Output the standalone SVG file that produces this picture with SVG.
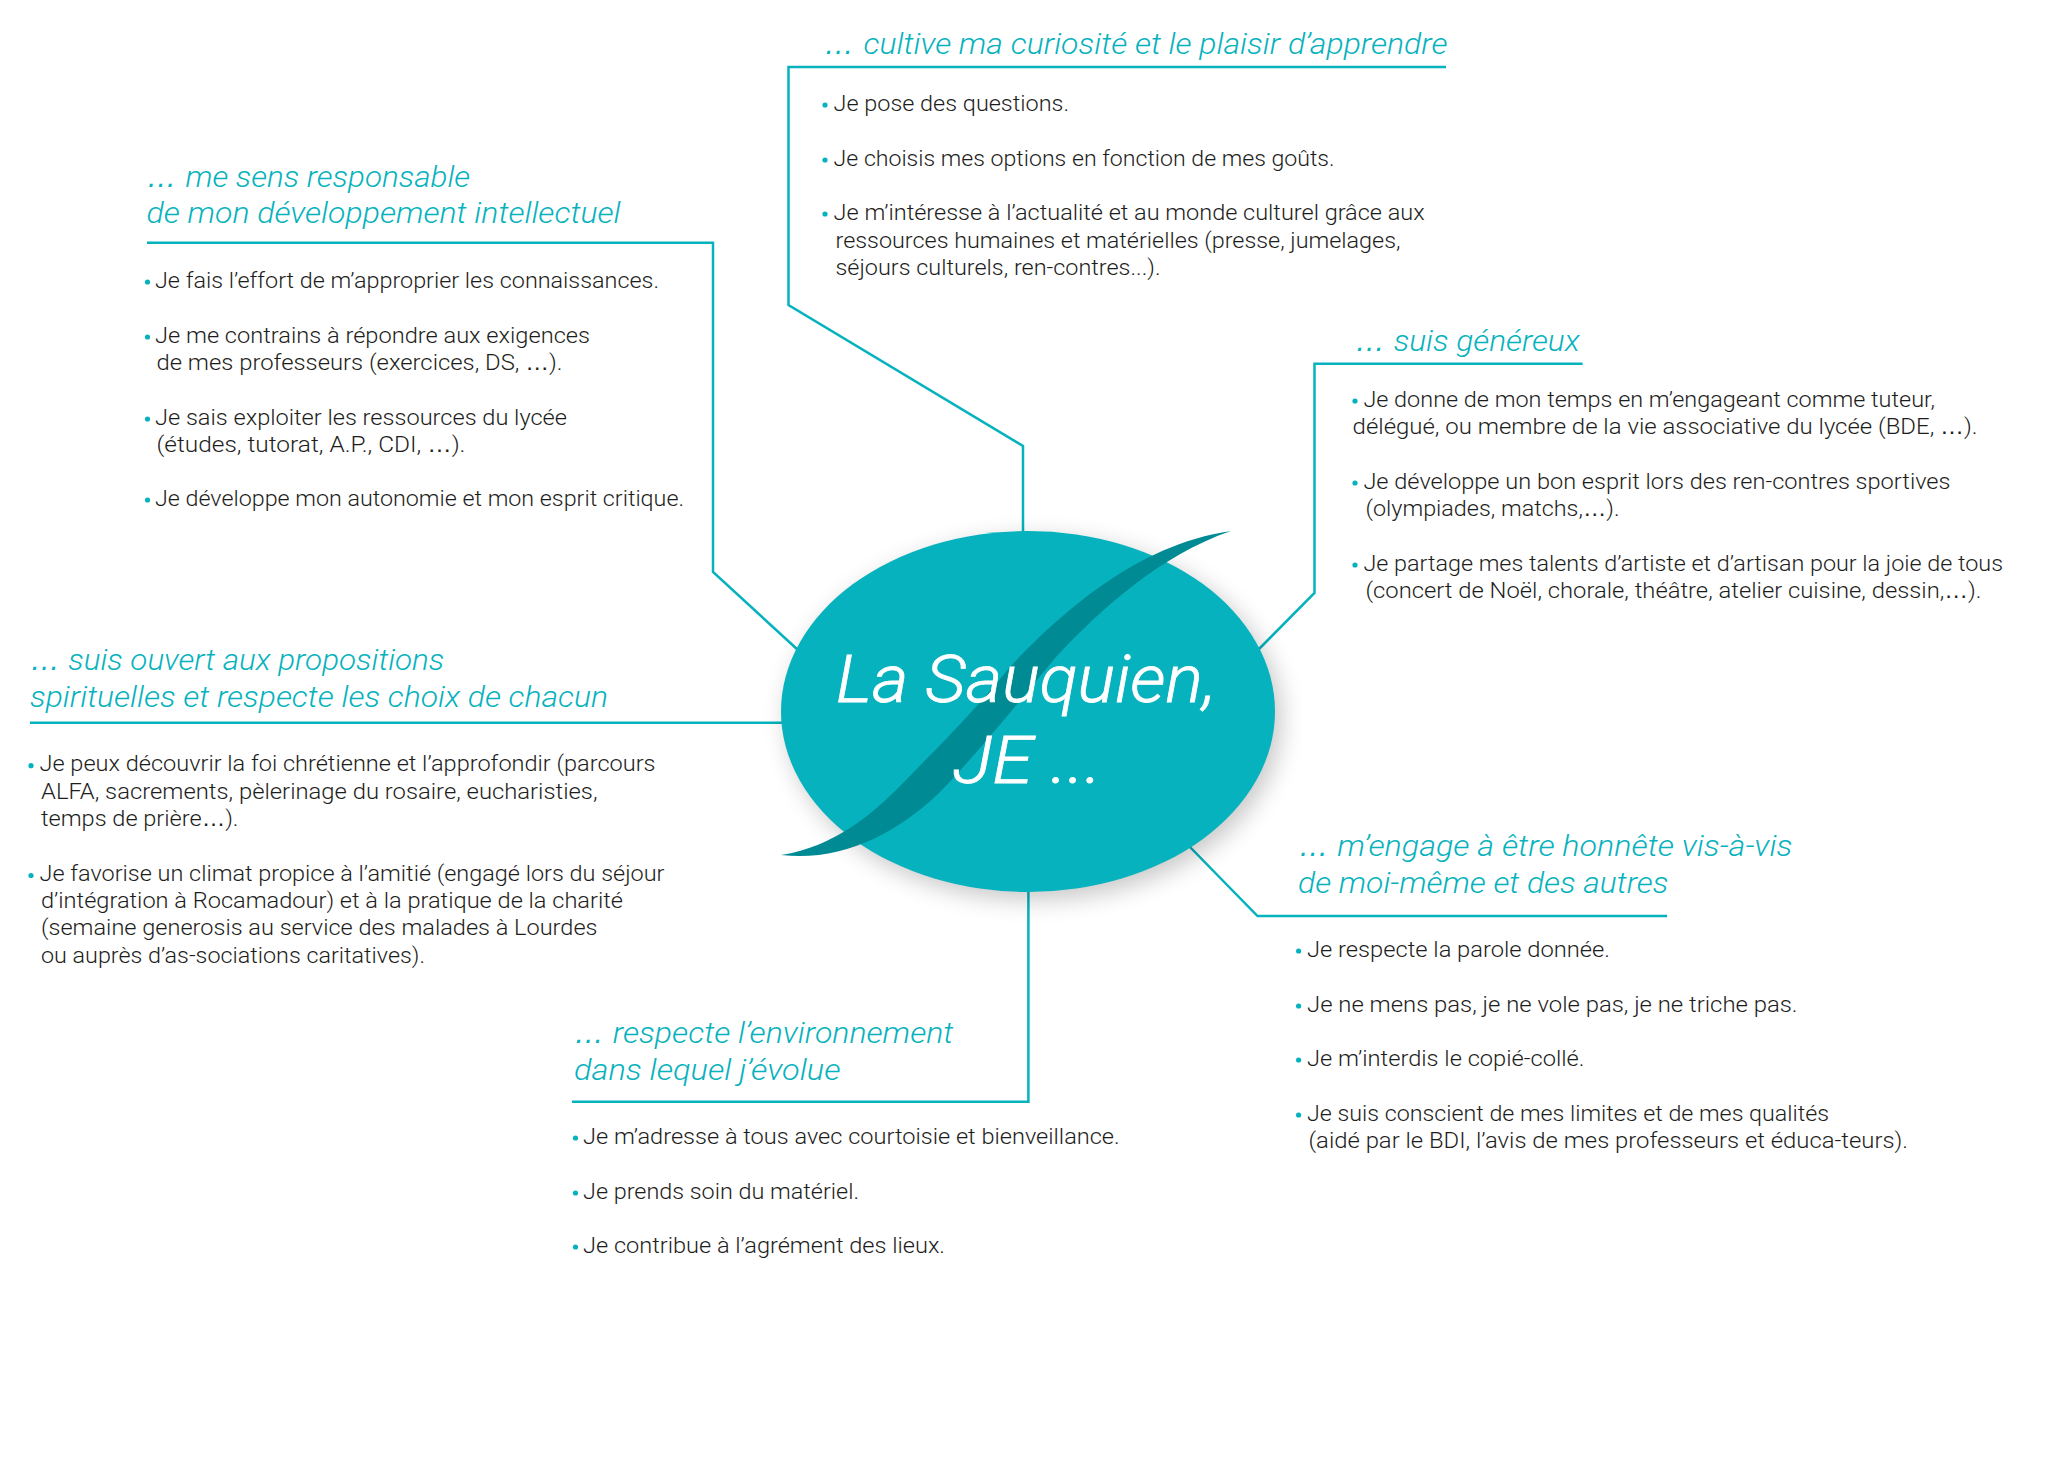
<svg xmlns="http://www.w3.org/2000/svg" width="2057" height="1479" viewBox="0 0 2057 1479">
<style>
text{font-family:Roboto,"Liberation Sans",Arial,sans-serif;font-weight:300;font-kerning:normal}
.t{font-size:30px;font-style:italic;fill:#06b2bd}
.b{font-size:22px;fill:#1d1d1b}
.c{font-size:66px;font-style:italic;fill:#fff;stroke:#fff;stroke-width:.8}
.e{font-family:"Liberation Sans",Arial,sans-serif}
.d{fill:#06b2bd}
.l{fill:none;stroke:#06b2bd;stroke-width:2.5}
</style>
<defs>
<filter id="sh" x="-20%" y="-20%" width="140%" height="140%"><feGaussianBlur stdDeviation="12"/></filter>
</defs>
<rect width="2057" height="1479" fill="#fff"/>
<g id="connectors">
<polyline class="l" points="1446,67 788.5,67 788.5,305 1023,446 1023,535"/>
<polyline class="l" points="147,242.7 713,242.7 713,572 798,650"/>
<polyline class="l" points="30,722.7 785,722.7"/>
<polyline class="l" points="1582.6,363.7 1314.5,363.7 1314.5,593 1258,650"/>
<polyline class="l" points="1667,916 1257.5,916 1188,845"/>
<polyline class="l" points="572,1101.7 1028.4,1101.7 1028.4,888"/>
</g>
<g id="center">
<ellipse cx="1034" cy="719" rx="247" ry="180.5" fill="#000" opacity=".22" filter="url(#sh)"/>
<ellipse cx="1028" cy="711.5" rx="247" ry="180.5" fill="#06b2bd"/>
<path d="M781,855 C835,847 875,812 903,783 C935,750 965,722 1010,667 C1050,625 1130,545 1231,531 C1160,555 1100,610 1056,657 C1020,700 985,745 939,793 C895,835 840,862 781,855 Z" fill="#008a94"/>
<text class="c" x="836" y="701.7" textLength="380" lengthAdjust="spacingAndGlyphs">La Sauquien,</text>
<text class="c" x="953" y="782.7" textLength="149" lengthAdjust="spacingAndGlyphs">JE ...</text>
</g>
<g id="node-curiosite">
<text class="t" y="54"><tspan class="e" x="824">…</tspan><tspan x="863.500" textLength="584" lengthAdjust="spacingAndGlyphs">cultive ma curiosité et le plaisir d’apprendre</tspan></text>
<circle class="d" cx="825" cy="105" r="2.6"/><circle class="d" cx="825" cy="160" r="2.6"/><circle class="d" cx="825" cy="214" r="2.6"/>
<text class="b" x="833.6" y="111" textLength="235.4" lengthAdjust="spacingAndGlyphs">Je pose des questions.</text>
<text class="b" x="833.6" y="166" textLength="501" lengthAdjust="spacingAndGlyphs">Je choisis mes options en fonction de mes goûts.</text>
<text class="b" x="833.6" y="220" textLength="591" lengthAdjust="spacingAndGlyphs">Je m’intéresse à l’actualité et au monde culturel grâce aux</text>
<text class="b" x="835.500" y="248" textLength="565" lengthAdjust="spacingAndGlyphs">ressources humaines et matérielles (presse, jumelages,</text>
<text class="b" x="835.500" y="275" textLength="325" lengthAdjust="spacingAndGlyphs">séjours culturels, ren-contres...).</text>
</g>
<g id="node-responsable">
<text class="t" y="187"><tspan class="e" x="146.500">…</tspan><tspan x="185.500" textLength="284.500" lengthAdjust="spacingAndGlyphs">me sens responsable</tspan></text>
<text class="t" x="146.500" y="223" textLength="474" lengthAdjust="spacingAndGlyphs">de mon développement intellectuel</text>
<circle class="d" cx="147.500" cy="282" r="2.6"/><circle class="d" cx="147.500" cy="337" r="2.6"/><circle class="d" cx="147.500" cy="419" r="2.6"/><circle class="d" cx="147.500" cy="500" r="2.6"/>
<text class="b" x="155" y="288" textLength="504" lengthAdjust="spacingAndGlyphs">Je fais l’effort de m’approprier les connaissances.</text>
<text class="b" x="155" y="342.700" textLength="435" lengthAdjust="spacingAndGlyphs">Je me contrains à répondre aux exigences</text>
<text class="b" x="156.500" y="370" textLength="406" lengthAdjust="spacingAndGlyphs">de mes professeurs (exercices, DS, <tspan class="e">…</tspan>).</text>
<text class="b" x="155" y="424.700" textLength="412" lengthAdjust="spacingAndGlyphs">Je sais exploiter les ressources du lycée</text>
<text class="b" x="156.500" y="451.700" textLength="309" lengthAdjust="spacingAndGlyphs">(études, tutorat, A.P., CDI, <tspan class="e">…</tspan>).</text>
<text class="b" x="155" y="506" textLength="529" lengthAdjust="spacingAndGlyphs">Je développe mon autonomie et mon esprit critique.</text>
</g>
<g id="node-spirituel">
<text class="t" y="670"><tspan class="e" x="30">…</tspan><tspan x="68.300" textLength="376" lengthAdjust="spacingAndGlyphs">suis ouvert aux propositions</tspan></text>
<text class="t" x="30" y="707" textLength="578" lengthAdjust="spacingAndGlyphs">spirituelles et respecte les choix de chacun</text>
<circle class="d" cx="31" cy="765.700" r="2.6"/><circle class="d" cx="31" cy="875.500" r="2.6"/>
<text class="b" x="39.500" y="771" textLength="616" lengthAdjust="spacingAndGlyphs">Je peux découvrir la foi chrétienne et l’approfondir (parcours</text>
<text class="b" x="41" y="799" textLength="556.500" lengthAdjust="spacingAndGlyphs">ALFA, sacrements, pèlerinage du rosaire, eucharisties,</text>
<text class="b" x="41" y="826" textLength="197.500" lengthAdjust="spacingAndGlyphs">temps de prière<tspan class="e">…</tspan>).</text>
<text class="b" x="39.500" y="881" textLength="625" lengthAdjust="spacingAndGlyphs">Je favorise un climat propice à l’amitié (engagé lors du séjour</text>
<text class="b" x="41" y="908" textLength="582" lengthAdjust="spacingAndGlyphs">d’intégration à Rocamadour) et à la pratique de la charité</text>
<text class="b" x="41" y="935" textLength="556.500" lengthAdjust="spacingAndGlyphs">(semaine generosis au service des malades à Lourdes</text>
<text class="b" x="41" y="962.700" textLength="384" lengthAdjust="spacingAndGlyphs">ou auprès d’as-sociations caritatives).</text>
</g>
<g id="node-genereux">
<text class="t" y="350.500"><tspan class="e" x="1355">…</tspan><tspan x="1393.700" textLength="186" lengthAdjust="spacingAndGlyphs">suis généreux</tspan></text>
<circle class="d" cx="1355" cy="401" r="2.6"/><circle class="d" cx="1355" cy="483" r="2.6"/><circle class="d" cx="1355" cy="565" r="2.6"/>
<text class="b" x="1363.400" y="406.700" textLength="571.600" lengthAdjust="spacingAndGlyphs">Je donne de mon temps en m’engageant comme tuteur,</text>
<text class="b" x="1352.600" y="434" textLength="625" lengthAdjust="spacingAndGlyphs">délégué, ou membre de la vie associative du lycée (BDE, <tspan class="e">…</tspan>).</text>
<text class="b" x="1363.400" y="489" textLength="587.100" lengthAdjust="spacingAndGlyphs">Je développe un bon esprit lors des ren-contres sportives</text>
<text class="b" x="1365.500" y="516" textLength="254" lengthAdjust="spacingAndGlyphs">(olympiades, matchs,<tspan class="e">…</tspan>).</text>
<text class="b" x="1363.400" y="571" textLength="639.600" lengthAdjust="spacingAndGlyphs">Je partage mes talents d’artiste et d’artisan pour la joie de tous</text>
<text class="b" x="1365.500" y="598" textLength="616" lengthAdjust="spacingAndGlyphs">(concert de Noël, chorale, théâtre, atelier cuisine, dessin,<tspan class="e">…</tspan>).</text>
</g>
<g id="node-honnete">
<text class="t" y="856"><tspan class="e" x="1298.600">…</tspan><tspan x="1337.300" textLength="455" lengthAdjust="spacingAndGlyphs">m’engage à être honnête vis-à-vis</tspan></text>
<text class="t" x="1298" y="893" textLength="370.400" lengthAdjust="spacingAndGlyphs">de moi-même et des autres</text>
<circle class="d" cx="1298.600" cy="951" r="2.6"/><circle class="d" cx="1298.600" cy="1006" r="2.6"/><circle class="d" cx="1298.600" cy="1060" r="2.6"/><circle class="d" cx="1298.600" cy="1115" r="2.6"/>
<text class="b" x="1307" y="956.700" textLength="303" lengthAdjust="spacingAndGlyphs">Je respecte la parole donnée.</text>
<text class="b" x="1307" y="1011.700" textLength="490.500" lengthAdjust="spacingAndGlyphs">Je ne mens pas, je ne vole pas, je ne triche pas.</text>
<text class="b" x="1307" y="1066" textLength="277.500" lengthAdjust="spacingAndGlyphs">Je m’interdis le copié-collé.</text>
<text class="b" x="1307" y="1120.700" textLength="522" lengthAdjust="spacingAndGlyphs">Je suis conscient de mes limites et de mes qualités</text>
<text class="b" x="1308.500" y="1147.700" textLength="599.500" lengthAdjust="spacingAndGlyphs">(aidé par le BDI, l’avis de mes professeurs et éduca-teurs).</text>
</g>
<g id="node-environnement">
<text class="t" y="1043"><tspan class="e" x="574">…</tspan><tspan x="612.800" textLength="340.600" lengthAdjust="spacingAndGlyphs">respecte l’environnement</tspan></text>
<text class="t" x="574" y="1080" textLength="266.500" lengthAdjust="spacingAndGlyphs">dans lequel j’évolue</text>
<circle class="d" cx="575.500" cy="1138" r="2.6"/><circle class="d" cx="575.500" cy="1193" r="2.6"/><circle class="d" cx="575.500" cy="1247" r="2.6"/>
<text class="b" x="583" y="1144" textLength="536.700" lengthAdjust="spacingAndGlyphs">Je m’adresse à tous avec courtoisie et bienveillance.</text>
<text class="b" x="583" y="1199" textLength="276" lengthAdjust="spacingAndGlyphs">Je prends soin du matériel.</text>
<text class="b" x="583" y="1253" textLength="362" lengthAdjust="spacingAndGlyphs">Je contribue à l’agrément des lieux.</text>
</g>
</svg>
